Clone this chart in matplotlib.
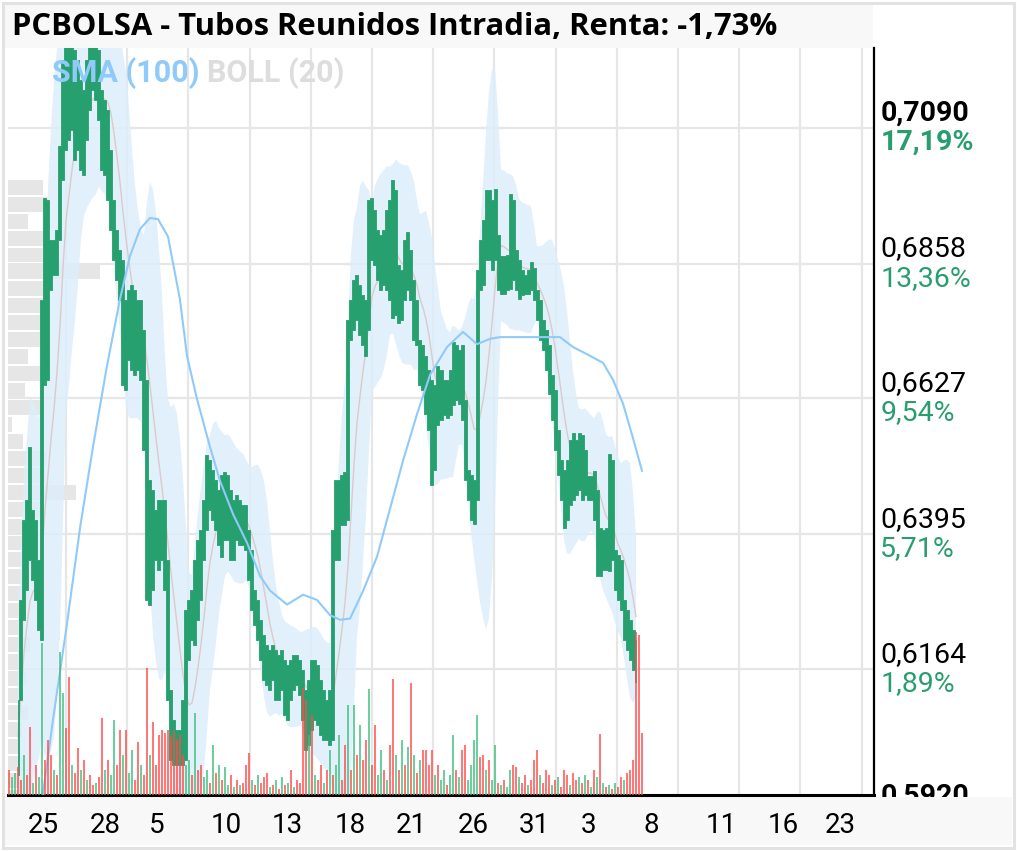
import numpy as np
import pandas as pd
import matplotlib
matplotlib.use("Agg")
import matplotlib.pyplot as plt
from matplotlib.patches import Rectangle
from matplotlib.transforms import Bbox, TransformedBbox

plt.rcParams['font.family'] = ['Roboto', 'DejaVu Sans']

# ---- data (intraday range per slot, 3 px apart) ----
price_low = [
    0.5983, 0.6111, 0.6248, 0.6299, 0.6351, 0.6316, 0.6282, 0.6231, 0.6214, 0.6650,
    0.6659, 0.6813, 0.6838, 0.6838, 0.6898, 0.7001, 0.7052, 0.7069, 0.7087, 0.7035,
    0.7052, 0.7018, 0.7010, 0.7069, 0.7121, 0.7155, 0.7138, 0.7104, 0.7018, 0.7010,
    0.6967, 0.6915, 0.6864, 0.6830, 0.6796, 0.6650, 0.6642, 0.6693, 0.6676, 0.6667,
    0.6676, 0.6659, 0.6539, 0.6282, 0.6274, 0.6299, 0.6351, 0.6333, 0.6351, 0.6299,
    0.6111, 0.6008, 0.5999, 0.5999, 0.5999, 0.5999, 0.6008, 0.6179, 0.6214, 0.6205,
    0.6248, 0.6282, 0.6351, 0.6402, 0.6436, 0.6419, 0.6402, 0.6376, 0.6356, 0.6385,
    0.6385, 0.6351, 0.6351, 0.6385, 0.6376, 0.6376, 0.6368, 0.6316, 0.6265, 0.6239,
    0.6214, 0.6179, 0.6145, 0.6137, 0.6128, 0.6145, 0.6111, 0.6111, 0.6128, 0.6085,
    0.6077, 0.6111, 0.6128, 0.6137, 0.6120, 0.6077, 0.6025, 0.6034, 0.6060, 0.6077,
    0.6068, 0.6051, 0.6043, 0.6043, 0.6034, 0.6043, 0.6351, 0.6351, 0.6410, 0.6410,
    0.6419, 0.6727, 0.6744, 0.6761, 0.6736, 0.6719, 0.6700, 0.6744, 0.6864, 0.6856,
    0.6830, 0.6813, 0.6821, 0.6813, 0.6796, 0.6765, 0.6770, 0.6756, 0.6761, 0.6796,
    0.6813, 0.6796, 0.6727, 0.6719, 0.6650, 0.6642, 0.6600, 0.6573, 0.6479, 0.6505,
    0.6582, 0.6590, 0.6599, 0.6594, 0.6599, 0.6616, 0.6625, 0.6618, 0.6590, 0.6488,
    0.6453, 0.6419, 0.6412, 0.6453, 0.6813, 0.6821, 0.6864, 0.6864, 0.6847, 0.6864,
    0.6813, 0.6806, 0.6806, 0.6813, 0.6814, 0.6830, 0.6813, 0.6797, 0.6804, 0.6806,
    0.6806, 0.6813, 0.6796, 0.6761, 0.6727, 0.6710, 0.6676, 0.6635, 0.6590, 0.6539,
    0.6496, 0.6453, 0.6405, 0.6419, 0.6445, 0.6453, 0.6462, 0.6470, 0.6453, 0.6462,
    0.6453, 0.6453, 0.6419, 0.6323, 0.6323, 0.6333, 0.6333, 0.6332, 0.6351, 0.6299,
    0.6282, 0.6265, 0.6214, 0.6197, 0.6179, 0.6162, 0.6142,
]
price_high = [
    0.6111, 0.6282, 0.6419, 0.6453, 0.6544, 0.6436, 0.6419, 0.6351, 0.6796, 0.6970,
    0.6967, 0.6898, 0.6898, 0.6915, 0.7059, 0.7206, 0.7240, 0.7240, 0.7240, 0.7224,
    0.7206, 0.7172, 0.7155, 0.7206, 0.7240, 0.7240, 0.7240, 0.7224, 0.7155, 0.7138,
    0.7121, 0.7052, 0.6967, 0.6915, 0.6881, 0.6864, 0.6796, 0.6813, 0.6821, 0.6813,
    0.6796, 0.6796, 0.6744, 0.6659, 0.6488, 0.6470, 0.6436, 0.6453, 0.6453, 0.6453,
    0.6351, 0.6128, 0.6077, 0.6060, 0.6060, 0.6111, 0.6265, 0.6282, 0.6299, 0.6351,
    0.6385, 0.6402, 0.6453, 0.6530, 0.6522, 0.6505, 0.6488, 0.6470, 0.6496, 0.6501,
    0.6496, 0.6470, 0.6453, 0.6462, 0.6453, 0.6445, 0.6445, 0.6402, 0.6368, 0.6299,
    0.6282, 0.6248, 0.6222, 0.6205, 0.6197, 0.6205, 0.6197, 0.6188, 0.6197, 0.6179,
    0.6171, 0.6179, 0.6188, 0.6188, 0.6179, 0.6162, 0.6128, 0.6145, 0.6179, 0.6179,
    0.6171, 0.6145, 0.6128, 0.6111, 0.6128, 0.6402, 0.6488, 0.6488, 0.6496, 0.6501,
    0.6761, 0.6796, 0.6830, 0.6838, 0.6821, 0.6804, 0.6796, 0.6967, 0.6970, 0.6950,
    0.6915, 0.6907, 0.6915, 0.6950, 0.6967, 0.7001, 0.6984, 0.6856, 0.6847, 0.6898,
    0.6912, 0.6881, 0.6830, 0.6796, 0.6727, 0.6719, 0.6700, 0.6676, 0.6659, 0.6650,
    0.6683, 0.6676, 0.6659, 0.6659, 0.6676, 0.6724, 0.6719, 0.6710, 0.6719, 0.6625,
    0.6505, 0.6496, 0.6488, 0.6847, 0.6898, 0.6933, 0.6984, 0.6984, 0.6967, 0.6986,
    0.6907, 0.6871, 0.6871, 0.6873, 0.6977, 0.6967, 0.6881, 0.6864, 0.6847, 0.6838,
    0.6847, 0.6860, 0.6850, 0.6813, 0.6796, 0.6761, 0.6744, 0.6719, 0.6667, 0.6642,
    0.6573, 0.6522, 0.6505, 0.6522, 0.6556, 0.6568, 0.6556, 0.6568, 0.6564, 0.6539,
    0.6494, 0.6494, 0.6503, 0.6470, 0.6405, 0.6402, 0.6405, 0.6532, 0.6522, 0.6368,
    0.6359, 0.6351, 0.6282, 0.6265, 0.6248, 0.6231, 0.6214,
]

# volume per slot (starts 3 slots before the first price slot), r = falling, g = rising
volume = [
    25, 18, 22, 28, 15, 40, 20, 68, 12, 30,
    18, 152, 35, 55, 40, 25, 20, 143, 102, 67,
    118, 30, 22, 47, 25, 35, 15, 20, 10, 12,
    18, 77, 25, 35, 20, 75, 30, 65, 40, 65,
    22, 45, 15, 53, 30, 20, 127, 40, 73, 30,
    60, 65, 62, 65, 58, 64, 55, 60, 40, 30,
    35, 20, 82, 25, 30, 18, 25, 12, 50, 22,
    30, 15, 28, 10, 20, 8, 15, 10, 12, 30,
    42, 15, 10, 20, 12, 18, 22, 8, 10, 15,
    6, 18, 10, 12, 25, 8, 15, 12, 107, 95,
    60, 80, 20, 15, 30, 12, 25, 45, 20, 30,
    60, 15, 50, 90, 25, 90, 40, 70, 35, 55,
    106, 30, 70, 20, 45, 25, 15, 50, 116, 40,
    25, 55, 30, 48, 112, 40, 22, 35, 45, 45,
    30, 45, 20, 30, 15, 25, 10, 20, 60, 25,
    18, 45, 50, 15, 30, 55, 80, 38, 40, 25,
    35, 15, 50, 12, 10, 15, 8, 25, 30, 28,
    18, 12, 20, 10, 15, 35, 45, 20, 12, 25,
    20, 10, 15, 18, 8, 25, 20, 10, 22, 15,
    18, 12, 20, 15, 8, 25, 18, 61, 12, 8,
    10, 6, 12, 8, 18, 15, 22, 25, 35, 163,
    160, 62,
]
volume_side = ("rggrrgrrgr" "ggrrrgrggr" "rgrrgrgrrg" "rrgrggrrgr" "ggrrgrrgrr"
               "rrrrrrrrrg" "grgrrggrgr" "grggrgrgrr" "rgrgrrrgrg" "rgrgrgrrrr"
               "grgrrgrgrg" "grrgrgrgrr" "grrggrgrrg" "rgrgrgrgrr" "rrgrggrggr"
               "grrggggrrg" "rggrgrggrr" "grrgrrrgrr" "rgrgrrrgrr" "grgrgrgrgr"
               "grgrrgrrrr" "rr")
volume_offset = 3

# SMA(100) as drawn on the chart
sma_pos = [8.33, 11.67, 16.33, 20.67, 25, 29.67, 34, 37.33, 40.67, 44, 46.67, 50, 54,
           56.33, 59.67, 64, 67.33, 71.67, 76.33, 80.67, 84, 89.67, 95, 99.67, 104,
           107.33, 110.67, 115, 119.67, 124, 128.33, 133, 137.33, 143, 148.33, 153,
           157.33, 160.67, 167.33, 176.33, 180.67, 185, 190.67, 195, 198.33, 201.67,
           205, 208]
sma_vals = [0.5950, 0.6077, 0.6241, 0.6405, 0.6544, 0.6683, 0.6797, 0.6871, 0.6917,
            0.6936, 0.6934, 0.6904, 0.6796, 0.6700, 0.6626, 0.6544, 0.6486, 0.6429,
            0.6380, 0.6323, 0.6298, 0.6274, 0.6291, 0.6282, 0.6256, 0.6248, 0.6250,
            0.6297, 0.6356, 0.6438, 0.6520, 0.6600, 0.6667, 0.6715, 0.6741, 0.6720,
            0.6729, 0.6732, 0.6732, 0.6732, 0.6732, 0.6715, 0.6700, 0.6688, 0.6659,
            0.6618, 0.6559, 0.6503]

# volume by price (left side profile), top bin downwards
profile_top = 0.7003
profile_step = 0.0029
profile_vol = [35, 40, 20, 40, 35, 92, 40, 38, 38, 38, 20, 37, 17, 35, 4, 15, 38, 37,
               68, 33, 27, 20, 18, 15, 20, 14, 16, 22, 12, 18, 15, 20, 14, 10, 16, 12, 10]

tick_prices = [0.6164, 0.6395, 0.6627, 0.6858, 0.7090]
tick_pcts = ["1,89%", "5,71%", "9,54%", "13,36%", "17,19%"]
bottom_label = "0,5920"
date_pos = [8.33, 29, 46.33, 69.33, 89.67, 110.67, 131, 151.67, 172, 190, 211,
            234.33, 255, 274]
date_labels = ["25", "28", "5", "10", "13", "18", "21", "26", "31", "3", "8",
               "11", "16", "23"]
y_lo, y_hi = 0.5948, 0.7227
x_lo, x_hi = -3.33, 285.33

GREEN = '#27a06f'
PCT_GREEN = '#2a9d6f'
RED = '#ff4a4a'
VGREEN = '#3cbf7c'

W, H = 1017, 851
fig = plt.figure(figsize=(W / 100, H / 100), dpi=100)
fig.patch.set_facecolor('white')


def frect(x0, y0, x1, y1):
    return [x0 / W, 1 - y1 / H, (x1 - x0) / W, (y1 - y0) / H]


# background bands
fig.patches.append(Rectangle((5 / W, 1 - 48 / H), 868 / W, 43 / H, transform=fig.transFigure,
                             facecolor='#f8f8f8', edgecolor='none', zorder=0))
fig.patches.append(Rectangle((5 / W, 1 - 845 / H), 1007 / W, 48 / H, transform=fig.transFigure,
                             facecolor='#f8f8f8', edgecolor='none', zorder=0))
fig.patches.append(Rectangle((3 / W, 3 / H), 1 - 6 / W, 1 - 6 / H, transform=fig.transFigure,
                             facecolor='none', edgecolor='#e2e2e2', lw=2.2, zorder=20))

rect = frect(8, 48, 874, 795)

# price profile underneath
axp = fig.add_axes(rect, zorder=1)
centers = profile_top - profile_step * (np.arange(len(profile_vol)) + 0.5)
axp.barh(centers, profile_vol, height=profile_step * 0.88, color='#e6e6e6', lw=0)
axp.set_xlim(0, max(profile_vol) * 866 / 92)
axp.set_ylim(y_lo, y_hi)
axp.axis('off')

ax = fig.add_axes(rect, zorder=2)
ax.patch.set_visible(False)
x = np.arange(len(price_low))
lo = np.array(price_low)
hi = np.array(price_high)

# Bollinger (20) on the intraday prices (both ends of each slot)
both = pd.Series(np.column_stack([lo, hi]).ravel())
roll = both.rolling(16, min_periods=2)
bb_mid = roll.mean().to_numpy()[1::2]
bb_sd = np.nan_to_num(roll.std().to_numpy()[1::2])
ax.fill_between(x, bb_mid - 2 * bb_sd, bb_mid + 2 * bb_sd, color='#ddeefb', alpha=0.85,
                lw=0, zorder=1.5)
ax.plot(x, bb_mid, color='#dccaca', lw=1, zorder=2)
ax.fill_between(x, lo, hi, step='mid', color=GREEN, lw=0.6, edgecolor=GREEN, zorder=3)
ax.plot(sma_pos, sma_vals, color='#90caf9', lw=1.5, zorder=4)

ax.set_xlim(x_lo, x_hi)
ax.set_ylim(y_lo, y_hi)
ax.set_yticks(tick_prices)
ax.set_yticklabels([])
ax.set_xticks(date_pos)
ax.set_xticklabels(date_labels)
ax.set_xticks(np.arange(16, 286, 20.4), minor=True)
ax.tick_params(axis='both', which='both', length=0)
ax.tick_params(axis='x', labelsize=20, pad=12)
ax.grid(axis='y', color='#e6e6e6', lw=1.6)
ax.grid(axis='x', which='minor', color='#e6e6e6', lw=1.6)
ax.set_axisbelow(True)
for s in ['left', 'top']:
    ax.spines[s].set_visible(False)
ax.spines['right'].set_linewidth(1.6)
ax.spines['bottom'].set_linewidth(2.2)
ax.spines['right'].set_color('black')
ax.spines['bottom'].set_color('black')

# right hand price / percentage labels
top_price = max(tick_prices)
for p, pct in zip(tick_prices, tick_pcts):
    w = 'bold' if p == top_price else 'normal'
    ax.annotate(f"{p:.4f}".replace('.', ','), xy=(1, p), xycoords=('axes fraction', 'data'),
                xytext=(4.5, 10.5), textcoords='offset points', va='center', ha='left',
                fontsize=20.5, fontweight=w, color='black', annotation_clip=False)
    ax.annotate(pct, xy=(1, p), xycoords=('axes fraction', 'data'),
                xytext=(4.5, -10.5), textcoords='offset points', va='center', ha='left',
                fontsize=20.5, fontweight=w, color=PCT_GREEN, annotation_clip=False)
bt = ax.annotate(bottom_label, xy=(1, y_lo), xycoords=('axes fraction', 'data'),
                 xytext=(4.5, -1), textcoords='offset points', va='center', ha='left',
                 fontsize=20.5, fontweight='bold', color='black', annotation_clip=False)
bt.set_clip_box(TransformedBbox(Bbox([[0.85, 1 - 797 / H], [1.0, 1.0]]), fig.transFigure))

ax.text((52 - 8) / 866, (795 - 73) / 747, "SMA (100)", transform=ax.transAxes, color='#90caf9',
        fontsize=22, fontweight='bold', va='center', ha='left', zorder=10)
ax.text((207 - 8) / 866, (795 - 73) / 747, "BOLL (20)", transform=ax.transAxes, color='#dddddd',
        fontsize=22, fontweight='bold', va='center', ha='left', zorder=10)

# volume on top
axv = fig.add_axes(rect, zorder=3)
axv.patch.set_visible(False)
vx = np.arange(len(volume)) - volume_offset
vcol = [RED if s == 'r' else VGREEN for s in volume_side]
axv.bar(vx, volume, width=0.75, color=vcol, alpha=0.75, lw=0)
axv.set_xlim(x_lo, x_hi)
axv.set_ylim(0, max(volume) * 747 / 163)
axv.axis('off')

fig.text(12 / W, 1 - 27 / H, "PCBOLSA - Tubos Reunidos Intradia, Renta: -1,73%",
         fontsize=22.3, fontweight='bold', family=['Open Sans', 'DejaVu Sans'],
         va='center', ha='left', zorder=5)

fig.savefig("out.png", dpi=100, facecolor='white')
